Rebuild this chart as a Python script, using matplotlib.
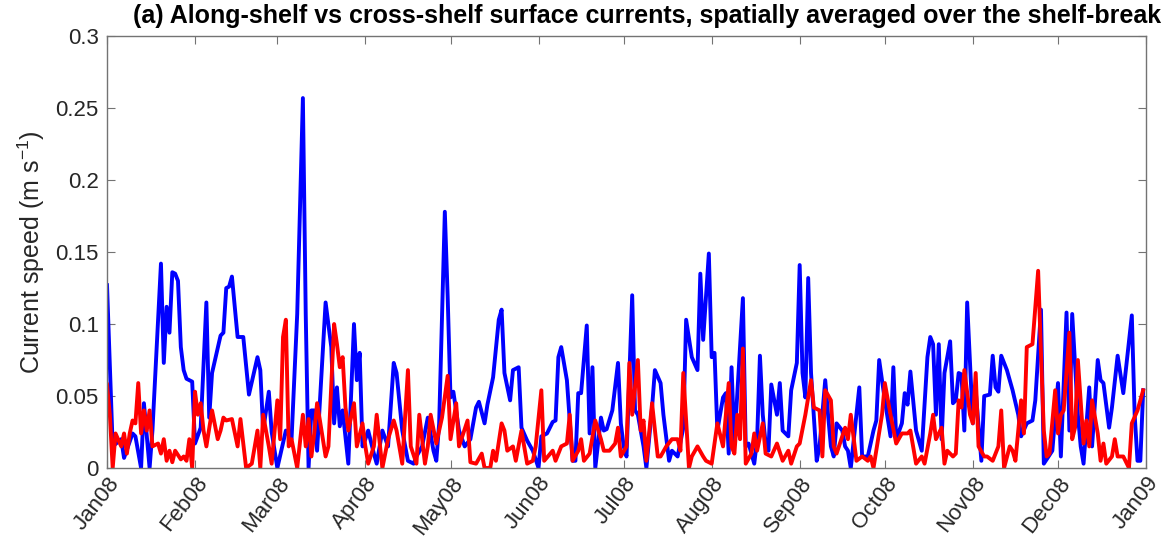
import numpy as np
import matplotlib
matplotlib.use("Agg")
import matplotlib.pyplot as plt
import matplotlib.dates as mdates

plt.rcParams['font.family'] = ['Liberation Sans', 'DejaVu Sans']
plt.rcParams['mathtext.default'] = 'regular'

# day of year (0 = 1 Jan 2008) and speed in m/s
along_day = [0, 2, 5, 6, 9, 10, 12, 13, 15, 16, 19, 20, 21, 22, 23, 24, 25, 26, 27, 28,
             30, 31, 33, 35, 36, 37, 40, 41, 42, 43, 44, 46, 48, 50, 53, 54, 55, 57, 58, 60,
             63, 65, 67, 69, 70, 71, 72, 73, 74, 77, 79, 80, 81, 82, 83, 85, 87, 88, 89, 90,
             91, 92, 94, 95, 97, 99, 101, 102, 104, 106, 108, 109, 111, 113, 115, 116, 117, 119, 120, 121,
             122, 124, 126, 128, 130, 131, 133, 134, 136, 138, 139, 140, 142, 143, 145, 146, 148, 150, 152, 153,
             155, 157, 158, 159, 160, 162, 164, 165, 166, 167, 169, 170, 171, 172, 174, 175, 176, 178, 180, 181,
             182, 183, 185, 186, 187, 189, 190, 192, 193, 195, 196, 198, 199, 201, 203, 204, 206, 208, 209, 210,
             212, 213, 214, 215, 217, 218, 219, 220, 221, 224, 225, 226, 228, 229, 230, 231, 232, 233, 234, 236,
             237, 238, 240, 241, 243, 244, 245, 246, 247, 248, 250, 251, 253, 254, 255, 256, 257, 259, 260, 261,
             262, 265, 266, 268, 270, 271, 272, 274, 276, 277, 278, 280, 281, 282, 283, 285, 287, 289, 290, 291,
             292, 293, 294, 295, 297, 298, 299, 300, 301, 302, 303, 305, 306, 308, 309, 311, 312, 313, 314, 315,
             317, 319, 321, 322, 324, 326, 327, 329, 330, 333, 335, 336, 338, 339, 340, 342, 343, 344, 346, 347,
             349, 350, 351, 353, 354, 356, 358, 359, 361, 362, 363, 364, 365]
along_val = [0.127, 0.015, 0.020, 0.007, 0.024, 0.022, 0.000, 0.045, 0.000, 0.026, 0.142, 0.073, 0.112, 0.094, 0.136, 0.135, 0.130, 0.084, 0.068, 0.062,
             0.060, 0.017, 0.028, 0.115, 0.035, 0.066, 0.092, 0.094, 0.125, 0.126, 0.133, 0.091, 0.091, 0.051, 0.077, 0.068, 0.026, 0.053, 0.025, 0.000,
             0.026, 0.020, 0.107, 0.257, 0.107, 0.000, 0.040, 0.040, 0.012, 0.115, 0.084, 0.031, 0.056, 0.029, 0.040, 0.003, 0.100, 0.061, 0.080, 0.015,
             0.020, 0.026, 0.010, 0.003, 0.026, 0.015, 0.073, 0.066, 0.026, 0.005, 0.003, 0.008, 0.015, 0.035, 0.012, 0.005, 0.031, 0.178, 0.119, 0.049,
             0.053, 0.026, 0.015, 0.020, 0.042, 0.046, 0.031, 0.044, 0.063, 0.103, 0.110, 0.066, 0.047, 0.068, 0.070, 0.028, 0.019, 0.012, 0.000, 0.022,
             0.024, 0.032, 0.033, 0.077, 0.084, 0.061, 0.005, 0.005, 0.052, 0.052, 0.099, 0.024, 0.070, 0.000, 0.035, 0.026, 0.027, 0.040, 0.073, 0.031,
             0.015, 0.008, 0.120, 0.040, 0.037, 0.015, 0.000, 0.042, 0.068, 0.059, 0.037, 0.005, 0.012, 0.008, 0.028, 0.103, 0.077, 0.068, 0.135, 0.089,
             0.149, 0.077, 0.080, 0.026, 0.049, 0.052, 0.010, 0.070, 0.017, 0.118, 0.015, 0.017, 0.003, 0.020, 0.078, 0.037, 0.017, 0.012, 0.058, 0.037,
             0.059, 0.026, 0.022, 0.054, 0.073, 0.141, 0.066, 0.049, 0.132, 0.066, 0.005, 0.015, 0.061, 0.037, 0.015, 0.008, 0.031, 0.026, 0.015, 0.012,
             0.000, 0.056, 0.008, 0.008, 0.026, 0.033, 0.075, 0.047, 0.022, 0.070, 0.020, 0.031, 0.052, 0.044, 0.067, 0.026, 0.012, 0.077, 0.091, 0.086,
             0.037, 0.086, 0.020, 0.066, 0.088, 0.045, 0.047, 0.066, 0.065, 0.026, 0.115, 0.031, 0.054, 0.005, 0.050, 0.051, 0.078, 0.056, 0.053, 0.078,
             0.068, 0.054, 0.037, 0.022, 0.031, 0.033, 0.047, 0.110, 0.003, 0.012, 0.059, 0.008, 0.108, 0.026, 0.107, 0.037, 0.015, 0.003, 0.056, 0.015,
             0.075, 0.061, 0.059, 0.028, 0.042, 0.078, 0.052, 0.070, 0.106, 0.037, 0.005, 0.005, 0.054]

cross_day = [0, 1, 2, 3, 5, 6, 7, 8, 9, 10, 11, 12, 13, 14, 15, 16, 18, 19, 20, 21,
             22, 23, 24, 26, 27, 28, 29, 30, 31, 32, 33, 34, 35, 37, 39, 40, 41, 42, 44, 46,
             47, 49, 51, 53, 54, 55, 57, 58, 60, 61, 62, 63, 64, 65, 67, 69, 70, 71, 72, 73,
             74, 75, 77, 78, 80, 81, 82, 83, 84, 85, 87, 88, 90, 91, 92, 94, 95, 97, 99, 101,
             102, 104, 106, 107, 109, 110, 112, 113, 114, 116, 118, 120, 121, 123, 124, 127, 128, 130, 132, 133,
             135, 136, 137, 139, 140, 141, 143, 144, 146, 148, 150, 151, 153, 154, 157, 158, 160, 162, 163, 164,
             166, 167, 168, 170, 172, 174, 175, 177, 179, 180, 181, 183, 184, 185, 187, 188, 189, 190, 192, 194,
             195, 197, 199, 201, 202, 203, 205, 206, 208, 210, 211, 213, 215, 217, 219, 220, 221, 222, 223, 224,
             225, 227, 228, 229, 231, 232, 234, 236, 238, 240, 241, 243, 244, 246, 248, 249, 251, 252, 253, 255,
             256, 257, 260, 261, 262, 264, 266, 268, 269, 270, 273, 274, 276, 278, 280, 282, 283, 285, 287, 288,
             290, 291, 292, 294, 295, 296, 298, 299, 300, 301, 302, 304, 305, 306, 307, 309, 310, 312, 314, 315,
             316, 318, 319, 320, 322, 323, 324, 326, 328, 329, 330, 331, 332, 334, 335, 336, 337, 339, 340, 341,
             342, 344, 345, 346, 347, 349, 350, 351, 352, 354, 355, 356, 358, 360, 361, 363, 365]
cross_val = [0.058, 0.037, 0.000, 0.024, 0.015, 0.024, 0.010, 0.024, 0.033, 0.031, 0.059, 0.024, 0.040, 0.026, 0.040, 0.015, 0.017, 0.010, 0.020, 0.005,
             0.012, 0.004, 0.012, 0.006, 0.008, 0.005, 0.020, 0.000, 0.053, 0.037, 0.045, 0.026, 0.015, 0.040, 0.020, 0.026, 0.035, 0.033, 0.034, 0.015,
             0.034, 0.000, 0.003, 0.026, 0.000, 0.037, 0.015, 0.003, 0.047, 0.020, 0.091, 0.103, 0.015, 0.020, 0.000, 0.037, 0.015, 0.034, 0.008, 0.024,
             0.045, 0.033, 0.008, 0.015, 0.100, 0.086, 0.070, 0.077, 0.042, 0.026, 0.045, 0.015, 0.031, 0.015, 0.003, 0.015, 0.037, 0.000, 0.020, 0.033,
             0.026, 0.003, 0.068, 0.015, 0.003, 0.037, 0.003, 0.015, 0.037, 0.017, 0.035, 0.064, 0.020, 0.045, 0.015, 0.033, 0.004, 0.003, 0.010, 0.000,
             0.000, 0.012, 0.005, 0.031, 0.026, 0.012, 0.015, 0.005, 0.026, 0.003, 0.005, 0.015, 0.054, 0.005, 0.012, 0.005, 0.015, 0.017, 0.037, 0.005,
             0.012, 0.020, 0.005, 0.010, 0.033, 0.020, 0.012, 0.012, 0.017, 0.028, 0.008, 0.015, 0.073, 0.037, 0.075, 0.026, 0.033, 0.005, 0.045, 0.008,
             0.008, 0.015, 0.020, 0.020, 0.012, 0.066, 0.000, 0.008, 0.015, 0.008, 0.005, 0.003, 0.031, 0.015, 0.059, 0.015, 0.010, 0.037, 0.020, 0.083,
             0.003, 0.010, 0.024, 0.012, 0.031, 0.010, 0.008, 0.017, 0.005, 0.012, 0.003, 0.015, 0.017, 0.037, 0.061, 0.042, 0.040, 0.008, 0.054, 0.047,
             0.015, 0.010, 0.028, 0.020, 0.037, 0.005, 0.008, 0.005, 0.008, 0.000, 0.037, 0.059, 0.037, 0.017, 0.024, 0.024, 0.026, 0.003, 0.008, 0.003,
             0.024, 0.037, 0.020, 0.028, 0.003, 0.012, 0.008, 0.010, 0.047, 0.042, 0.068, 0.037, 0.031, 0.066, 0.015, 0.008, 0.008, 0.005, 0.015, 0.040,
             0.000, 0.015, 0.012, 0.005, 0.047, 0.024, 0.084, 0.086, 0.137, 0.080, 0.026, 0.008, 0.010, 0.054, 0.024, 0.037, 0.040, 0.094, 0.020, 0.028,
             0.075, 0.017, 0.033, 0.015, 0.047, 0.024, 0.005, 0.017, 0.003, 0.008, 0.020, 0.008, 0.008, 0.000, 0.031, 0.040, 0.054]

start = np.datetime64('2008-01-01')
along_t = start + np.array(along_day).astype('timedelta64[D]')
cross_t = start + np.array(cross_day).astype('timedelta64[D]')

fig = plt.figure(figsize=(11.76, 5.48), dpi=100)
ax = fig.add_axes([0.091, 0.146, 0.8835, 0.788])

ax.plot(along_t, along_val, color=(0, 0, 1), lw=2.8)
ax.plot(cross_t, cross_val, color=(1, 0, 0), lw=2.8)

ax.set_xlim(np.datetime64('2008-01-01'), np.datetime64('2009-01-01'))
ax.set_ylim(0, 0.3)
ax.set_yticks([0, 0.05, 0.1, 0.15, 0.2, 0.25, 0.3])
ax.set_yticklabels(['0', '0.05', '0.1', '0.15', '0.2', '0.25', '0.3'])
ax.xaxis.set_major_locator(mdates.MonthLocator())
ax.xaxis.set_major_formatter(mdates.DateFormatter('%b%y'))

grey = (0.15, 0.15, 0.15)
for s in ax.spines.values():
    s.set_color((0.45, 0.45, 0.45))
    s.set_linewidth(1.0)
ax.tick_params(direction='in', length=6, width=0.8, colors=(0.45, 0.45, 0.45),
               labelcolor=grey, labelsize=16, top=True, right=True)
ax.tick_params(axis='y', pad=6)
plt.setp(ax.get_xticklabels(), rotation=52, ha='right', va='top', rotation_mode='anchor')

ax.set_ylabel('Current speed (m s$^{-1}$)', fontsize=18, color=grey, labelpad=6)
fig.text(0.550, 0.970, '(a) Along-shelf vs cross-shelf surface currents, spatially averaged over the shelf-break',
         ha='center', va='center', fontsize=18, fontweight='bold')

fig.savefig('out.png', dpi=100)
